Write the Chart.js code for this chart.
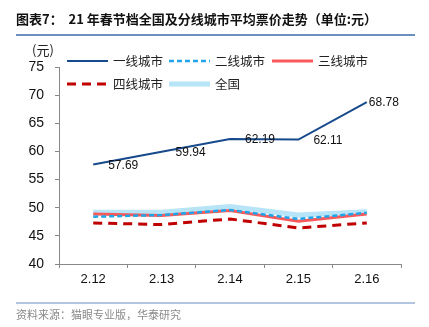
<!DOCTYPE html>
<html><head><meta charset="utf-8">
<script src="https://cdn.jsdelivr.net/npm/chart.js@4/dist/chart.umd.min.js"></script>
<style>
html,body{margin:0;padding:0;background:#fff;width:429px;height:327px;overflow:hidden;}
#wrap{position:relative;width:429px;height:327px;}
canvas{position:absolute;left:0;top:0;}
#title{position:absolute;left:16px;top:10px;font:bold 13px "Noto Sans CJK SC","Liberation Sans",sans-serif;color:#111;white-space:pre;line-height:18px;}
#tline{position:absolute;left:16px;top:34px;width:399px;height:1.5px;background:#6b8fbf;}
#bline{position:absolute;left:16px;top:302px;width:399px;height:2px;background:#b3c6e0;}
#src{position:absolute;left:16px;top:306px;font:11px "Noto Sans CJK SC",sans-serif;color:#8a8a8a;line-height:16px;}
#unit{position:absolute;left:32px;top:41px;font:13px "Noto Sans CJK SC","Liberation Sans",sans-serif;color:#222;line-height:18px;}
</style></head>
<body><div id="wrap">
<canvas id="c" width="429" height="327"></canvas>
<div id="title">图表7：  21 年春节档全国及分线城市平均票价走势（单位:元）</div>
<div id="tline"></div>
<div id="unit">(元)</div>
<div id="bline"></div>
<div id="src">资料来源：猫眼专业版，华泰研究</div>
</div>
<script>
const categories = ['2.12','2.13','2.14','2.15','2.16'];
const seriesNames = ['一线城市','二线城市','三线城市','四线城市','全国'];
const tier1 = [57.69, 59.94, 62.19, 62.11, 68.78];
const tier2 = [48.4, 48.7, 49.6, 48.0, 49.1];
const tier3 = [48.9, 48.6, 49.5, 47.6, 48.9];
const tier4 = [47.3, 47.0, 48.0, 46.4, 47.3];
const national = [49.2, 49.2, 50.2, 48.7, 49.3];
const yTicks = [40, 45, 50, 55, 60, 65, 70, 75];

const legendPos = [[67,61],[169,61],[272,61],[67,84],[169,84]];
const labelDx = [15,14,15,15,2];

const legendPlugin = {
  id:'customLegend',
  afterDraw(chart){
    const ctx = chart.ctx;
    chart.data.datasets.forEach((ds,i)=>{
      const [x,y] = legendPos[i];
      ctx.save();
      ctx.strokeStyle = ds.borderColor;
      ctx.lineWidth = ds.borderWidth;
      ctx.setLineDash(ds.borderDash || []);
      ctx.beginPath();
      ctx.moveTo(x,y); ctx.lineTo(x+41,y);
      ctx.stroke();
      ctx.setLineDash([]);
      ctx.fillStyle = '#222';
      ctx.font = '12.5px "Noto Sans CJK SC", sans-serif';
      ctx.textBaseline = 'middle';
      ctx.textAlign = 'left';
      ctx.fillText(ds.label, x+46, y);
      ctx.restore();
    });
  }
};
const labelPlugin = {
  id:'valueLabels',
  afterDatasetsDraw(chart){
    const ctx = chart.ctx;
    const meta = chart.getDatasetMeta(0);
    ctx.save();
    ctx.fillStyle = '#111';
    ctx.font = '12px "Liberation Sans", Arial, sans-serif';
    ctx.textBaseline = 'middle';
    ctx.textAlign = 'left';
    meta.data.forEach((pt,i)=>{
      ctx.fillText(tier1[i].toFixed(2), pt.x + labelDx[i], pt.y + 1);
    });
    ctx.restore();
  }
};

new Chart(document.getElementById('c'), {
  type:'line',
  data:{
    labels: categories,
    datasets:[
      {label:seriesNames[0], data:tier1, borderColor:'#174a8c', borderWidth:2},
      {label:seriesNames[1], data:tier2, borderColor:'#1ea5e8', borderWidth:2.5, borderDash:[5,3]},
      {label:seriesNames[2], data:tier3, borderColor:'#f85a5c', borderWidth:3},
      {label:seriesNames[3], data:tier4, borderColor:'#c00000', borderWidth:3, borderDash:[9,6]},
      {label:seriesNames[4], data:national, borderColor:'#b7e4f6', borderWidth:5}
    ].map(d=>Object.assign({pointRadius:0, fill:false, tension:0}, d))
  },
  options:{
    responsive:false, animation:false,
    layout:{padding:{top:67,left:0,right:28,bottom:33}},
    plugins:{legend:{display:false}, tooltip:{enabled:false}, title:{display:false}},
    scales:{
      x:{
        offset:true,
        grid:{display:true, drawOnChartArea:false, drawTicks:true, tickLength:4, color:'#888', offset:true},
        border:{display:true, color:'#888', width:1},
        ticks:{color:'#111', font:{family:'"Liberation Sans", Arial, sans-serif', size:13}, padding:4, maxRotation:0},
        afterFit(s){ s.height = 30; }
      },
      y:{
        min:40, max:75,
        afterBuildTicks(s){ s.ticks = yTicks.map(v=>({value:v})); },
        grid:{display:true, drawOnChartArea:false, drawTicks:true, tickLength:4, color:'#888'},
        border:{display:true, color:'#888', width:1},
        ticks:{color:'#111', font:{family:'"Liberation Sans", Arial, sans-serif', size:14}, padding:11},
        afterFit(s){ s.width = 59; }
      }
    }
  },
  plugins:[labelPlugin, legendPlugin]
});
</script>
</body></html>
